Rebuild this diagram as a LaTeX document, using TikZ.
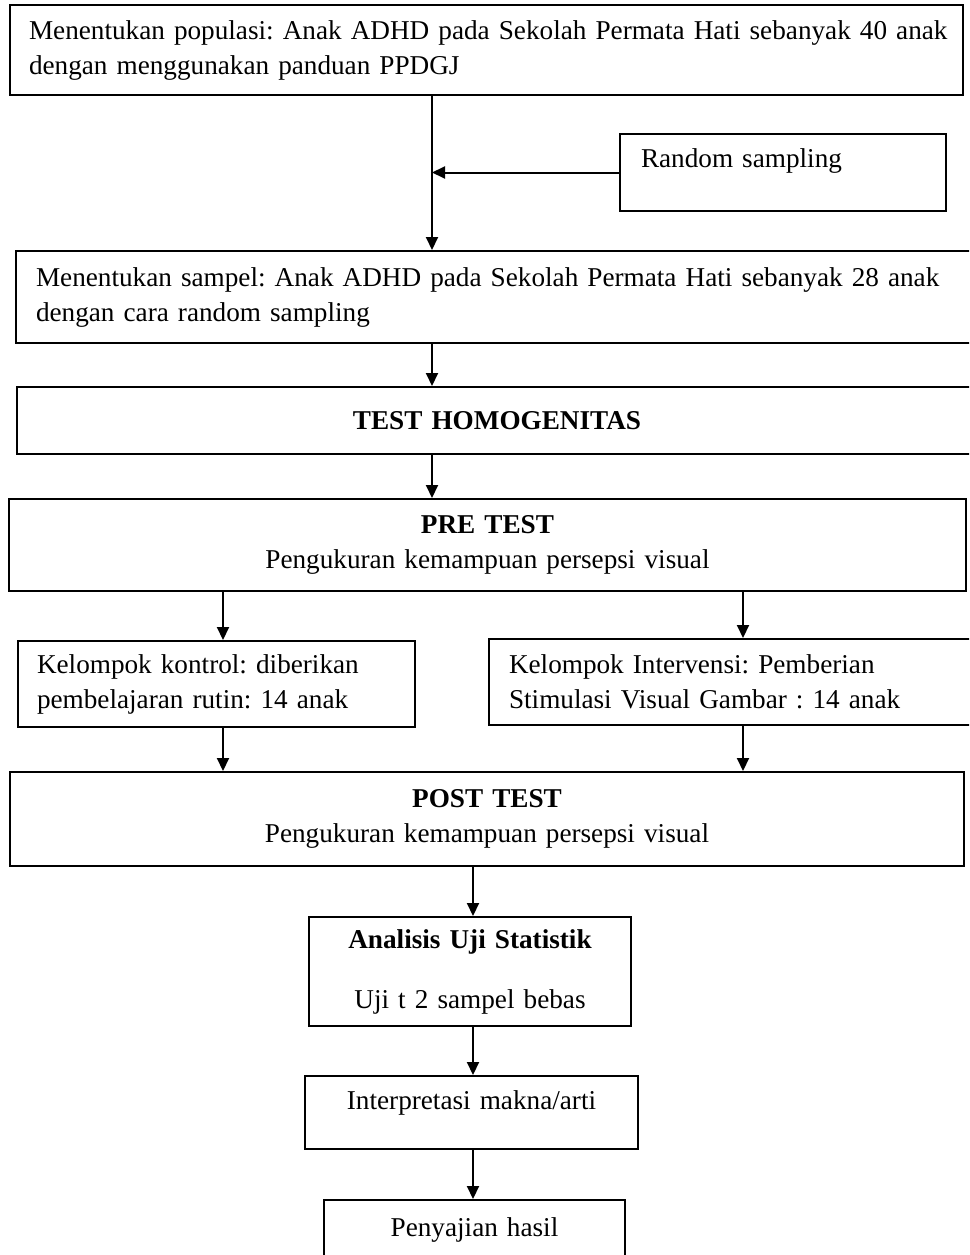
\documentclass[tikz,border=0pt]{standalone}
\usepackage{fontspec}
\setmainfont{Liberation Serif}
\usetikzlibrary{arrows.meta}
\frenchspacing

\begin{document}
\begin{tikzpicture}[x=1pt, y=-1pt,
        every node/.style={font=\fontsize{27.2}{35}\selectfont},
        box/.style={draw, line width=2pt, rectangle, anchor=north west, inner xsep=19pt, inner ysep=0pt},
        boxl/.style={box, align=left},
        boxc/.style={box, align=center},
        arr/.style={line width=2pt, -{Triangle[length=13pt, width=12pt]}}]
    \useasboundingbox (0,0) rectangle (969,1255);
    \clip (0,0) rectangle (969,1255);
          \node[boxl, text width=915pt, minimum height=90pt] (populasi) at (9,4)
            {\mbox{Menentukan populasi: Anak ADHD pada Sekolah Permata Hati sebanyak 40 anak}\\
             dengan menggunakan panduan PPDGJ};
          \node[boxl, inner xsep=21pt, text width=284pt, minimum height=77pt, text depth=28pt] (random) at (619,133)
            {Random sampling};
          \node[boxl, inner xsep=20pt, text width=920pt, minimum height=92pt] (sampel) at (15,250)
            {\mbox{Menentukan sampel: Anak ADHD pada Sekolah Permata Hati sebanyak 28 anak}\\
             dengan cara random sampling};
          \node[boxc, text width=922pt, minimum height=67pt] (homogen) at (16,386)
            {\bfseries TEST HOMOGENITAS};
          \node[boxc, text width=919pt, minimum height=92pt] (pretest) at (8,498)
            {\textbf{PRE TEST}\\ Pengukuran kemampuan persepsi visual};
          \node[boxl, text width=359pt, minimum height=86pt] (kontrol) at (17,640)
            {Kelompok kontrol: diberikan\\ pembelajaran rutin: 14 anak};
          \node[boxl, inner xsep=20pt, text width=450pt, minimum height=86pt] (intervensi) at (488,638)
            {Kelompok Intervensi: Pemberian\\ Stimulasi Visual Gambar : 14 anak};
          \node[boxc, text width=916pt, minimum height=94pt] (posttest) at (9,771)
            {\textbf{POST TEST}\\ Pengukuran kemampuan persepsi visual};
          \node[boxc, text width=284pt, minimum height=109pt] (analisis) at (308,916)
            {\textbf{Analisis Uji Statistik}\\[25pt] Uji t 2 sampel bebas};
          \node[boxc, text width=295pt, minimum height=73pt, text depth=24pt] (interpretasi) at (304,1075)
            {Interpretasi makna/arti};
          \node[boxc, text width=263pt, minimum height=80pt, text depth=26pt] (penyajian) at (323,1199)
            {Penyajian hasil};
    \coordinate (kolom) at (432,0);
    \coordinate (kiri) at (223,0);
    \coordinate (kanan) at (743,0);
    \coordinate (tengah) at (473,0);
    \draw[arr] (populasi.south -| kolom) -- (sampel.north -| kolom);
    \draw[arr] (random.west) -- (random.west -| kolom);
    \draw[arr] (sampel.south -| kolom) -- (homogen.north -| kolom);
    \draw[arr] (homogen.south -| kolom) -- (pretest.north -| kolom);
    \draw[arr] (pretest.south -| kiri) -- (kontrol.north -| kiri);
    \draw[arr] (pretest.south -| kanan) -- (intervensi.north -| kanan);
    \draw[arr] (kontrol.south -| kiri) -- (posttest.north -| kiri);
    \draw[arr] (intervensi.south -| kanan) -- (posttest.north -| kanan);
    \draw[arr] (posttest.south -| tengah) -- (analisis.north -| tengah);
    \draw[arr] (analisis.south -| tengah) -- (interpretasi.north -| tengah);
    \draw[arr] (interpretasi.south -| tengah) -- (penyajian.north -| tengah);
    \end{tikzpicture}
\end{document}
